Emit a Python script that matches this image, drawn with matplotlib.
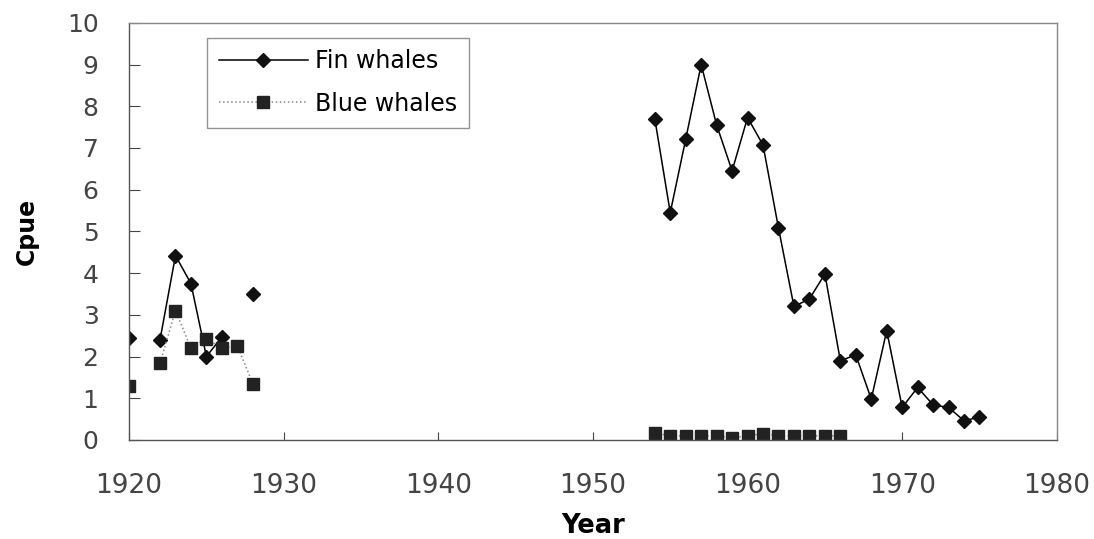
import numpy as np
import matplotlib.pyplot as plt

# Fin whales cpue (NaN = no data, breaks the line)
fin_years = [1920, 1921, 1922, 1923, 1924, 1925, 1926, 1927, 1928, 1929,
             1954, 1955, 1956, 1957, 1958, 1959, 1960, 1961, 1962, 1963, 1964,
             1965, 1966, 1967, 1968, 1969, 1970, 1971, 1972, 1973, 1974, 1975]
fin_cpue = [2.45, np.nan, 2.4, 4.42, 3.75, 2.0, 2.47, np.nan, 3.5, np.nan,
            7.7, 5.45, 7.21, 9.0, 7.55, 6.45, 7.73, 7.07, 5.08, 3.2, 3.38,
            3.98, 1.9, 2.04, 0.98, 2.62, 0.78, 1.26, 0.84, 0.78, 0.46, 0.55]

# Blue whales cpue
blue_years = [1920, 1921, 1922, 1923, 1924, 1925, 1926, 1927, 1928, 1929,
              1954, 1955, 1956, 1957, 1958, 1959, 1960, 1961, 1962, 1963, 1964,
              1965, 1966]
blue_cpue = [1.3, np.nan, 1.85, 3.1, 2.2, 2.43, 2.2, 2.26, 1.35, np.nan,
             0.17, 0.1, 0.1, 0.1, 0.1, 0.05, 0.1, 0.15, 0.1, 0.1, 0.1,
             0.1, 0.1]

fig = plt.figure(figsize=(10.94, 5.39), dpi=100)
ax = fig.add_axes([0.118, 0.1837, 0.848, 0.774])

ax.plot(fin_years, fin_cpue, color='black', lw=1.1, marker='D', ms=7,
        mfc='#111111', mec='#111111', label='Fin whales')
ax.plot(blue_years, blue_cpue, color='#888888', lw=1.1, ls=':', marker='s',
        ms=8.5, mfc='#222222', mec='#222222', label='Blue whales')

ax.set_xlim(1920, 1980)
ax.set_ylim(0, 10)
ax.set_xticks(range(1920, 1981, 10))
ax.set_yticks(range(0, 11))
ax.tick_params(axis='x', labelsize=19, colors='#444444', length=6,
               direction='in', pad=24)
ax.tick_params(axis='y', labelsize=18, colors='#444444', length=8,
               direction='in', pad=22)
ax.set_xlabel('Year', fontsize=18.5, fontweight='bold', labelpad=10)
ax.set_ylabel('Cpue', fontsize=17, fontweight='bold', labelpad=20)

for s in ax.spines.values():
    s.set_color('#555555')
    s.set_linewidth(1)
ax.spines['top'].set_color('#888888')
ax.spines['right'].set_color('#888888')

leg = ax.legend(loc='upper left', bbox_to_anchor=(0.071, 0.993), fontsize=17,
                frameon=True, fancybox=False, edgecolor='#777777',
                handlelength=3.8, handletextpad=0.3, labelspacing=0.78,
                borderpad=0.5)
leg.get_frame().set_linewidth(1)

fig.savefig('out.png', dpi=100)
